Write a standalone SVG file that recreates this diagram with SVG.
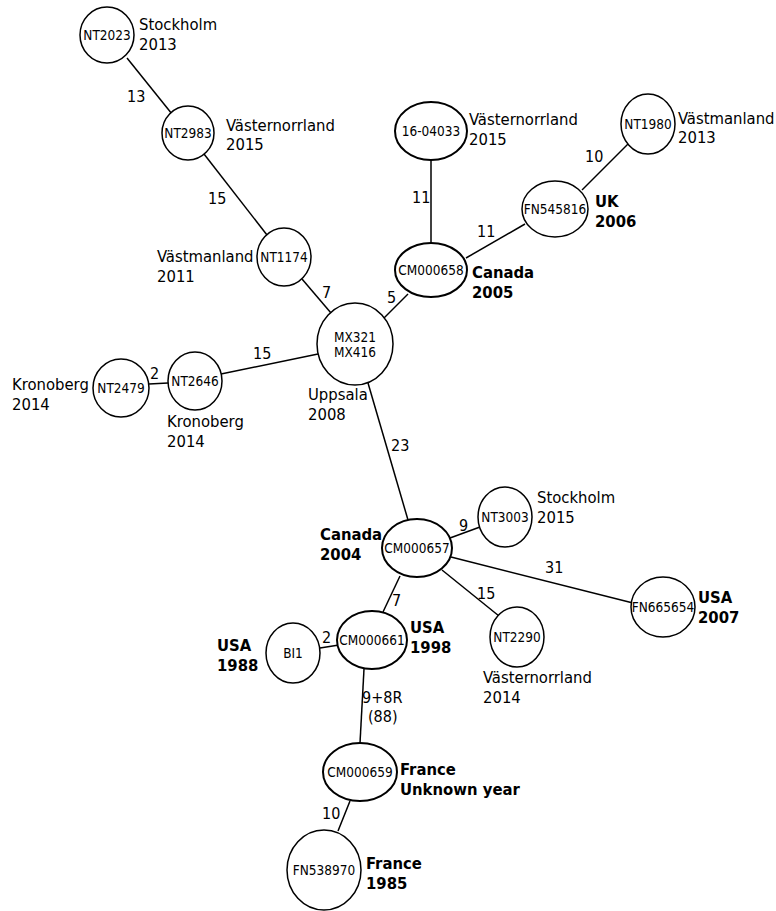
<svg xmlns="http://www.w3.org/2000/svg" width="776" height="911" viewBox="0 0 776 911">
<style>
text{font-family:"DejaVu Sans Condensed","DejaVu Sans",Verdana,sans-serif;fill:#000}
.l{font-size:16.5px}
.b{font-size:16.5px;font-weight:bold}
.n{font-size:13.5px;text-anchor:middle}
.e{font-size:16px}
.c{fill:#fff;stroke:#000;stroke-width:1.5}
.t{fill:#fff;stroke:#000;stroke-width:2}
#edges line{stroke:#000;stroke-width:1.5}
</style>
<rect width="776" height="911" fill="#fff"/>
<g id="edges">
<line x1="127" y1="58" x2="172" y2="114"/>
<line x1="204" y1="154" x2="267" y2="235"/>
<line x1="302" y1="279" x2="331" y2="313"/>
<line x1="408" y1="294" x2="384" y2="318"/>
<line x1="431" y1="160" x2="431" y2="243"/>
<line x1="466" y1="258" x2="525" y2="224"/>
<line x1="582" y1="190" x2="628" y2="144"/>
<line x1="221" y1="374" x2="318" y2="354"/>
<line x1="149" y1="384" x2="168" y2="383"/>
<line x1="368" y1="383" x2="408" y2="520"/>
<line x1="450" y1="538" x2="480" y2="527"/>
<line x1="451" y1="557" x2="633" y2="603"/>
<line x1="442" y1="570" x2="499" y2="616"/>
<line x1="400" y1="576" x2="383" y2="612"/>
<line x1="320" y1="648" x2="339" y2="645"/>
<line x1="364" y1="669" x2="360" y2="743"/>
<line x1="350" y1="801" x2="338" y2="831"/>
<text class="e" x="127" y="102">13</text>
<text class="e" x="208" y="204">15</text>
<text class="e" x="322" y="298">7</text>
<text class="e" x="387" y="303">5</text>
<text class="e" x="412" y="203">11</text>
<text class="e" x="477" y="237">11</text>
<text class="e" x="585" y="162">10</text>
<text class="e" x="253" y="359">15</text>
<text class="e" x="150" y="379">2</text>
<text class="e" x="391" y="451">23</text>
<text class="e" x="459" y="531">9</text>
<text class="e" x="545" y="573">31</text>
<text class="e" x="477" y="599">15</text>
<text class="e" x="392" y="606">7</text>
<text class="e" x="322" y="643">2</text>
<text class="e" x="362" y="703">9+8R</text>
<text class="e" x="368" y="722">(88)</text>
<text class="e" x="322" y="819">10</text>
</g>
<g id="NT2023"><ellipse class="c" cx="107" cy="35" rx="27" ry="28"/><text class="n" x="107" y="40">NT2023</text><text class="l" x="139" y="30">Stockholm</text><text class="l" x="139" y="50">2013</text></g>
<g id="NT2983"><ellipse class="c" cx="188" cy="133" rx="26" ry="27"/><text class="n" x="188" y="138">NT2983</text><text class="l" x="226" y="131">Västernorrland</text><text class="l" x="226" y="150">2015</text></g>
<g id="NT1174"><ellipse class="c" cx="284" cy="257" rx="27" ry="29"/><text class="n" x="284" y="262">NT1174</text><text class="l" x="157" y="262">Västmanland</text><text class="l" x="157" y="282">2011</text></g>
<g id="MX321"><ellipse class="c" cx="355" cy="344" rx="38" ry="41"/><text class="n" x="355" y="342">MX321</text><text class="n" x="355" y="357">MX416</text><text class="l" x="308" y="400">Uppsala</text><text class="l" x="308" y="420">2008</text></g>
<g id="CM000658"><ellipse class="t" cx="431" cy="270" rx="36" ry="27"/><text class="n" x="431" y="275">CM000658</text><text class="b" x="472" y="278">Canada</text><text class="b" x="472" y="298">2005</text></g>
<g id="n16-04033"><ellipse class="t" cx="431" cy="131" rx="36" ry="29"/><text class="n" x="431" y="136">16-04033</text><text class="l" x="469" y="125">Västernorrland</text><text class="l" x="469" y="145">2015</text></g>
<g id="NT1980"><ellipse class="c" cx="648" cy="124" rx="27" ry="30"/><text class="n" x="648" y="129">NT1980</text><text class="l" x="678" y="124">Västmanland</text><text class="l" x="678" y="143">2013</text></g>
<g id="FN545816"><ellipse class="c" cx="555" cy="209" rx="33" ry="28"/><text class="n" x="555" y="214">FN545816</text><text class="b" x="595" y="207">UK</text><text class="b" x="595" y="227">2006</text></g>
<g id="NT2646"><ellipse class="c" cx="195" cy="381" rx="27" ry="29"/><text class="n" x="195" y="386">NT2646</text><text class="l" x="167" y="427">Kronoberg</text><text class="l" x="167" y="447">2014</text></g>
<g id="NT2479"><ellipse class="c" cx="121" cy="388" rx="28" ry="29"/><text class="n" x="121" y="393">NT2479</text><text class="l" x="12" y="390">Kronoberg</text><text class="l" x="12" y="410">2014</text></g>
<g id="CM000657"><ellipse class="t" cx="417" cy="548" rx="35" ry="29"/><text class="n" x="417" y="553">CM000657</text><text class="b" x="320" y="540">Canada</text><text class="b" x="320" y="560">2004</text></g>
<g id="NT3003"><ellipse class="c" cx="505" cy="517" rx="27" ry="30"/><text class="n" x="505" y="522">NT3003</text><text class="l" x="537" y="503">Stockholm</text><text class="l" x="537" y="523">2015</text></g>
<g id="FN665654"><ellipse class="c" cx="663" cy="607" rx="32" ry="30"/><text class="n" x="663" y="612">FN665654</text><text class="b" x="698" y="603">USA</text><text class="b" x="698" y="623">2007</text></g>
<g id="NT2290"><ellipse class="c" cx="517" cy="637" rx="27" ry="30"/><text class="n" x="517" y="642">NT2290</text><text class="l" x="483" y="683">Västernorrland</text><text class="l" x="483" y="703">2014</text></g>
<g id="CM000661"><ellipse class="t" cx="372" cy="640" rx="35" ry="29"/><text class="n" x="372" y="645">CM000661</text><text class="b" x="410" y="633">USA</text><text class="b" x="410" y="653">1998</text></g>
<g id="BI1"><ellipse class="c" cx="293" cy="653" rx="27" ry="30"/><text class="n" x="293" y="658">BI1</text><text class="b" x="217" y="651">USA</text><text class="b" x="217" y="671">1988</text></g>
<g id="CM000659"><ellipse class="t" cx="360" cy="772" rx="37" ry="29"/><text class="n" x="360" y="777">CM000659</text><text class="b" x="400" y="775">France</text><text class="b" x="400" y="795">Unknown year</text></g>
<g id="FN538970"><ellipse class="c" cx="324" cy="870" rx="37" ry="40"/><text class="n" x="324" y="875">FN538970</text><text class="b" x="366" y="869">France</text><text class="b" x="366" y="889">1985</text></g>
</svg>
